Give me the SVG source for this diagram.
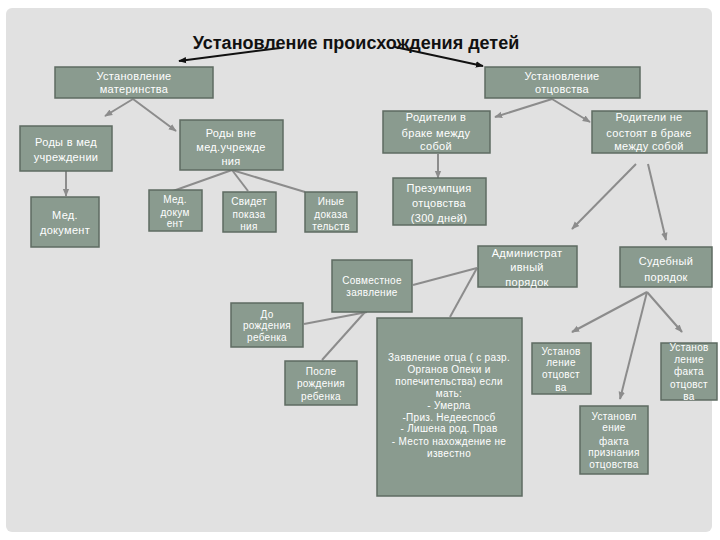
<svg xmlns="http://www.w3.org/2000/svg" width="720" height="540" viewBox="0 0 720 540">
<style>
.box{fill:#8a9b8f;stroke:#5e6b62;stroke-width:1.5}
.t{font-family:"Liberation Sans",Arial,sans-serif;font-size:11px;fill:#ffffff;text-anchor:middle;letter-spacing:0.3px}
.s{font-size:10px}
.c{stroke:#8c8c8c;stroke-width:2;fill:none;marker-end:url(#ag)}
.n{stroke:#8c8c8c;stroke-width:2;fill:none}
.k{stroke:#111111;stroke-width:2;fill:none;marker-end:url(#ak)}
</style>
<defs>
<marker id="ag" viewBox="0 0 10 10" refX="9" refY="5" markerWidth="4" markerHeight="4" orient="auto" markerUnits="strokeWidth"><path d="M0,1 L10,5 L0,9 z" fill="#8c8c8c"/></marker>
<marker id="ak" viewBox="0 0 10 10" refX="9" refY="5" markerWidth="4" markerHeight="4" orient="auto" markerUnits="strokeWidth"><path d="M0,1 L10,5 L0,9 z" fill="#111111"/></marker>
</defs>
<rect x="0" y="0" width="720" height="540" fill="#ffffff"/>
<rect x="6" y="8" width="706" height="524" rx="6" fill="#e1e1e1"/>
<text x="356" y="49" font-family="Liberation Sans,Arial,sans-serif" font-size="18" font-weight="bold" fill="#111" text-anchor="middle">Установление происхождения детей</text>
<g id="connectors">
<line class="k" x1="280" y1="48" x2="179" y2="61"/>
<line class="k" x1="395" y1="47" x2="483" y2="66"/>
<line class="c" x1="133" y1="99" x2="105" y2="116"/>
<line class="c" x1="133" y1="99" x2="176" y2="131"/>
<line class="c" x1="66" y1="171" x2="66" y2="196"/>
<line class="n" x1="232" y1="170" x2="173" y2="191"/>
<line class="n" x1="232" y1="170" x2="248" y2="191"/>
<line class="n" x1="232" y1="170" x2="305" y2="192"/>
<line class="c" x1="552" y1="99" x2="495" y2="117"/>
<line class="c" x1="552" y1="99" x2="590" y2="122"/>
<line class="c" x1="438" y1="154" x2="438" y2="178"/>
<line class="c" x1="636" y1="164" x2="572" y2="229"/>
<line class="c" x1="648" y1="164" x2="666" y2="240"/>
<line class="n" x1="477" y1="268" x2="413" y2="285"/>
<line class="n" x1="477" y1="268" x2="450" y2="317"/>
<line class="n" x1="367" y1="312" x2="304" y2="324"/>
<line class="n" x1="365" y1="312" x2="322" y2="360"/>
<line class="c" x1="647" y1="292" x2="572" y2="332"/>
<line class="c" x1="647" y1="292" x2="620" y2="399"/>
<line class="c" x1="647" y1="292" x2="682" y2="332"/>
</g>
<g id="n1"><rect class="box" x="55" y="67" width="158" height="31"/><text class="t"><tspan x="134" y="80">Установление</tspan><tspan x="134" y="93">материнства</tspan></text></g>
<g id="n2"><rect class="box" x="485" y="67" width="155" height="31"/><text class="t"><tspan x="562" y="80">Установление</tspan><tspan x="562" y="93">отцовства</tspan></text></g>
<g id="n3"><rect class="box" x="20" y="126" width="92" height="45"/><text class="t"><tspan x="66" y="146">Роды в мед</tspan><tspan x="66" y="161">учреждении</tspan></text></g>
<g id="n4"><rect class="box" x="180" y="120" width="103" height="50"/><text class="t"><tspan x="231" y="137">Роды вне</tspan><tspan x="231" y="151">мед.учрежде</tspan><tspan x="231" y="165">ния</tspan></text></g>
<g id="n5"><rect class="box" x="383" y="111" width="107" height="42"/><text class="t"><tspan x="436" y="121">Родители в</tspan><tspan x="436" y="137">браке между</tspan><tspan x="436" y="150">собой</tspan></text></g>
<g id="n6"><rect class="box" x="592" y="111" width="115" height="42"/><text class="t"><tspan x="649" y="121">Родители не</tspan><tspan x="649" y="137">состоят в браке</tspan><tspan x="649" y="150">между собой</tspan></text></g>
<g id="n7"><rect class="box" x="31" y="197" width="68" height="50"/><text class="t"><tspan x="65" y="219">Мед.</tspan><tspan x="65" y="234">документ</tspan></text></g>
<g id="n8"><rect class="box" x="149" y="190" width="53" height="41"/><text class="t s"><tspan x="175" y="203">Мед.</tspan><tspan x="175" y="216">докум</tspan><tspan x="175" y="227">ент</tspan></text></g>
<g id="n9"><rect class="box" x="223" y="192" width="53" height="40"/><text class="t s"><tspan x="249" y="205">Свидет</tspan><tspan x="249" y="218">показа</tspan><tspan x="249" y="230">ния</tspan></text></g>
<g id="n10"><rect class="box" x="305" y="192" width="52" height="40"/><text class="t s"><tspan x="331" y="205">Иные</tspan><tspan x="331" y="218">доказа</tspan><tspan x="331" y="230">тельств</tspan></text></g>
<g id="n11"><rect class="box" x="393" y="178" width="93" height="47"/><text class="t" font-size="12"><tspan x="439" y="192">Презумпция</tspan><tspan x="439" y="207">отцовства</tspan><tspan x="439" y="222">(300 дней)</tspan></text></g>
<g id="n12"><rect class="box" x="332" y="260" width="80" height="52"/><text class="t s"><tspan x="372" y="284">Совместное</tspan><tspan x="372" y="296">заявление</tspan></text></g>
<g id="n13"><rect class="box" x="478" y="246" width="99" height="41"/><text class="t"><tspan x="527" y="257">Администрат</tspan><tspan x="527" y="271">ивный</tspan><tspan x="527" y="286">порядок</tspan></text></g>
<g id="n14"><rect class="box" x="620" y="247" width="92" height="40"/><text class="t" font-size="12"><tspan x="666" y="265">Судебный</tspan><tspan x="666" y="281">порядок</tspan></text></g>
<g id="n15"><rect class="box" x="231" y="303" width="72" height="44"/><text class="t s"><tspan x="267" y="318">До</tspan><tspan x="267" y="329">рождения</tspan><tspan x="267" y="341">ребенка</tspan></text></g>
<g id="n16"><rect class="box" x="285" y="361" width="72" height="44"/><text class="t s"><tspan x="321" y="375">После</tspan><tspan x="321" y="387">рождения</tspan><tspan x="321" y="400">ребенка</tspan></text></g>
<g id="n17"><rect class="box" x="377" y="318" width="145" height="178"/><text class="t s" letter-spacing="0"><tspan x="449" y="361">Заявление отца ( с разр.</tspan><tspan x="449" y="373">Органов Опеки и</tspan><tspan x="449" y="385">попечительства) если</tspan><tspan x="449" y="397">мать:</tspan><tspan x="449" y="409">- Умерла</tspan><tspan x="449" y="421">-Приз. Недееспосб</tspan><tspan x="449" y="432">- Лишена род. Прав</tspan><tspan x="449" y="445">- Место нахождение не</tspan><tspan x="449" y="457">известно</tspan></text></g>
<g id="n18"><rect class="box" x="532" y="343" width="59" height="51"/><text class="t s"><tspan x="561" y="355">Установ</tspan><tspan x="561" y="366">ление</tspan><tspan x="561" y="378">отцовст</tspan><tspan x="561" y="391">ва</tspan></text></g>
<g id="n19"><rect class="box" x="661" y="343" width="56" height="57"/><text class="t s"><tspan x="689" y="351">Установ</tspan><tspan x="689" y="363">ление</tspan><tspan x="689" y="375">факта</tspan><tspan x="689" y="388">отцовст</tspan><tspan x="689" y="400">ва</tspan></text></g>
<g id="n20"><rect class="box" x="580" y="406" width="68" height="68"/><text class="t s"><tspan x="614" y="420">Установл</tspan><tspan x="614" y="431">ение</tspan><tspan x="614" y="445">факта</tspan><tspan x="614" y="456">признания</tspan><tspan x="614" y="468">отцовства</tspan></text></g>
</svg>
